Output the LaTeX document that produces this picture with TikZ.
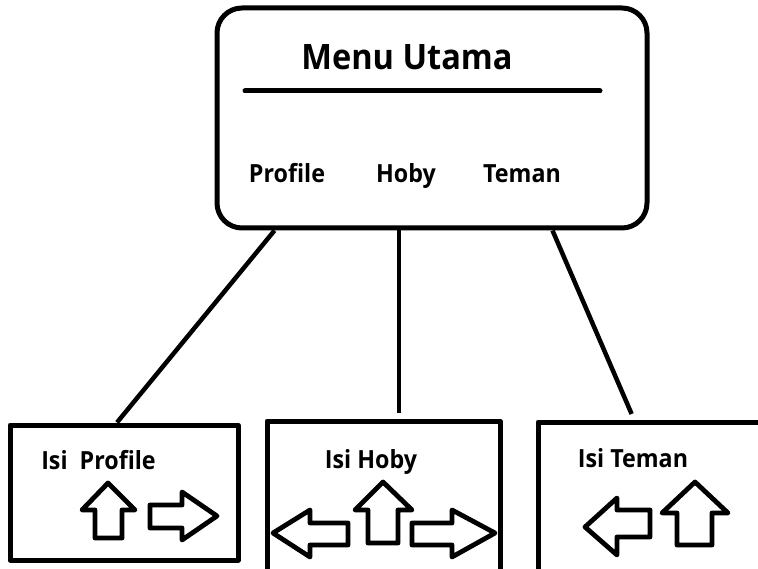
\documentclass[tikz,border=0pt]{standalone}
\usepackage{fontspec}
\setmainfont[BoldFeatures={FakeStretch=0.93}]{Open Sans}
\usetikzlibrary{positioning}

\begin{document}
\begin{tikzpicture}[x=1pt,y=-1pt,line join=round]
  \tikzset{menubox/.style={draw,line width=5pt,rounded corners=25pt,minimum width=430pt,minimum height=220pt,inner sep=0pt},
    pagebox/.style={draw,line width=5pt,inner sep=0pt},
    titletext/.style={font=\fontsize{35}{42}\selectfont\bfseries,anchor=base},
    itemtext/.style={font=\fontsize{25}{30}\selectfont\bfseries,anchor=base},
    link/.style={line width=4.5pt},
    blok/.style={line width=4.8pt,line join=round}}
  \useasboundingbox (0,0) rectangle (758,569);
  % menu utama
  \node[menubox] (menu) at (432,118) {};
  \node[titletext] (judul) at (407,70) {Menu Utama};
  \draw[line width=5pt,line cap=round] (245,91) -- (600,91);
  \node[itemtext] (profile) at (287,183) {Profile};
  \node[itemtext] (hoby) at (406,183) {Hoby};
  \node[itemtext] (teman) at (522,183) {Teman};
  % halaman isi
  \node[pagebox,minimum width=228pt,minimum height=135pt] (isiprofile) at (124,492.5) {};
  \node[pagebox,minimum width=233pt,minimum height=159pt] (isihoby) at (383.5,500.5) {};
  \node[pagebox,minimum width=242pt,minimum height=158pt] (isiteman) at (659,501) {};
  \node[itemtext] (tprofile) at (98.5,469) {Isi~\ Profile};
  \node[itemtext] (thoby) at (371,468) {Isi Hoby};
  \node[itemtext] (tteman) at (633,467) {Isi Teman};
  \draw[link] ([xshift=60pt]menu.south west) -- ([xshift=-7pt]isiprofile.north);
  \draw[link,shorten >=6pt] ([xshift=-33pt]menu.south) -- ([xshift=15.5pt]isihoby.north);
  \draw[link,shorten >=6pt] ([xshift=-97pt]menu.south east) -- ([xshift=-25pt]isiteman.north);
  % panah
  \draw[blok] (108,483) -- (135,510) -- (122,510) -- (122,538) -- (95,538) -- (95,510) -- (82,510) -- cycle;
  \draw[blok] (217,516) -- (182,540) -- (182,528) -- (150,528) -- (150,505) -- (182,505) -- (182,492) -- cycle;
  \draw[blok] (273,533) -- (310,510) -- (310,523) -- (348,523) -- (348,545) -- (310,545) -- (310,557) -- cycle;
  \draw[blok] (383,482) -- (412,510) -- (398,510) -- (398,543) -- (368,543) -- (368,510) -- (355,510) -- cycle;
  \draw[blok] (495,533) -- (452,510) -- (452,523) -- (412,523) -- (412,545) -- (452,545) -- (452,557) -- cycle;
  \draw[blok] (585,527) -- (617,498) -- (617,510) -- (650,510) -- (650,537) -- (617,537) -- (617,555) -- cycle;
  \draw[blok] (695,482) -- (728,513) -- (712,513) -- (712,545) -- (677,545) -- (677,513) -- (662,513) -- cycle;
\end{tikzpicture}
\end{document}
